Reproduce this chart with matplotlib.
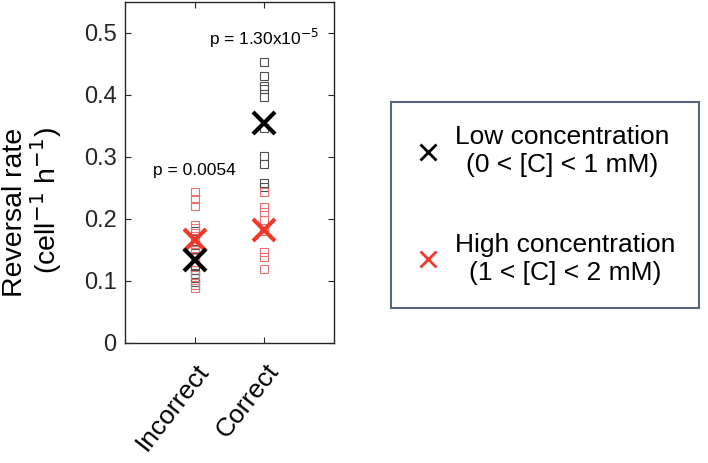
import matplotlib
matplotlib.use("Agg")
import matplotlib.pyplot as plt
from matplotlib.lines import Line2D

plt.rcParams['font.family'] = ['Liberation Sans', 'DejaVu Sans']

categories = ["Incorrect", "Correct"]
# individual values (low = black, high = red)
incorrect_low = [0.180, 0.170, 0.160, 0.152, 0.145, 0.138, 0.130, 0.125, 0.118, 0.112, 0.105, 0.098, 0.094]
incorrect_high = [0.244, 0.233, 0.221, 0.190, 0.185, 0.170, 0.160, 0.150, 0.140, 0.130, 0.110, 0.094, 0.089]
correct_low = [0.454, 0.430, 0.415, 0.410, 0.396, 0.346, 0.302, 0.289, 0.258, 0.251]
correct_high = [0.244, 0.220, 0.211, 0.198, 0.180, 0.146, 0.139, 0.119]
mean_low = [0.134, 0.355]
mean_high = [0.166, 0.182]
p_labels = ["p = 0.0054", "p = 1.30x10$^{-5}$"]
p_y = [0.278, 0.492]
yticks = [0, 0.1, 0.2, 0.3, 0.4, 0.5]

BLACK = "#000000"
RED = "#f0392b"
SQ_BLACK = "#505050"
SQ_RED = "#f07070"
AXC = "#262626"

fig = plt.figure(figsize=(7.08, 4.63), dpi=100)
ax = fig.add_axes([0.1766, 0.2592, 0.2952, 0.7365])

xs = [1, 2]
low_sets = [incorrect_low, correct_low]
high_sets = [incorrect_high, correct_high]
for x, lo, hi in zip(xs, low_sets, high_sets):
    ax.plot([x] * len(lo), lo, linestyle='none', marker='s', ms=5.5,
            mfc='none', mec=SQ_BLACK, mew=0.8, zorder=2)
    ax.plot([x] * len(hi), hi, linestyle='none', marker='s', ms=5.5,
            mfc='none', mec=SQ_RED, mew=0.8, zorder=2)

ax.plot(xs, mean_high, linestyle='none', marker='x', ms=16, mew=3,
        color=RED, zorder=3)
ax.plot(xs, mean_low, linestyle='none', marker='x', ms=16, mew=3,
        color=BLACK, zorder=4)

for x, lab, py in zip(xs, p_labels, p_y):
    ax.text(x, py, lab, ha='center', va='center', fontsize=12.5, color='black')

ax.set_xlim(0, 3)
ax.set_ylim(0, 0.55)
ax.set_xticks(xs)
ax.set_xticklabels(categories, rotation=52, ha='right', va='top',
                   rotation_mode='anchor', fontsize=19, color='black')
ax.set_yticks(yticks)
ax.set_yticklabels(["0", "0.1", "0.2", "0.3", "0.4", "0.5"], fontsize=17, color=AXC)
ax.tick_params(direction='in', length=4, width=0.8, color=AXC,
               top=True, right=True, pad=6)
ax.tick_params(axis='x', pad=12)
for s in ax.spines.values():
    s.set_color(AXC)
    s.set_linewidth(1.0)

fig.text(33 / 708, 1 - 212 / 463, "Reversal rate\n(cell$^{-1}$ h$^{-1}$)",
         rotation=90, ha='center', va='center', multialignment='right',
         fontsize=20.5, color='black', linespacing=1.0)

handles = [
    Line2D([], [], linestyle='none', marker='x', ms=12, mew=2, color=BLACK),
    Line2D([], [], linestyle='none', marker='x', ms=12, mew=2, color=RED),
]
labels = ["Low concentration\n(0 < [C] < 1 mM)", "High concentration\n(1 < [C] < 2 mM)"]
leg = fig.legend(handles, labels, loc='center', bbox_to_anchor=(545 / 708, 1 - 205 / 463),
                 fontsize=19, frameon=True, fancybox=False, edgecolor='#2f3e5c',
                 labelspacing=2.1, handletextpad=0.55, borderpad=0.9,
                 handlelength=1.0, borderaxespad=0)
leg.get_frame().set_linewidth(1.5)
for t in leg.get_texts():
    t.set_multialignment('center')

fig.savefig("out.png", dpi=100)
